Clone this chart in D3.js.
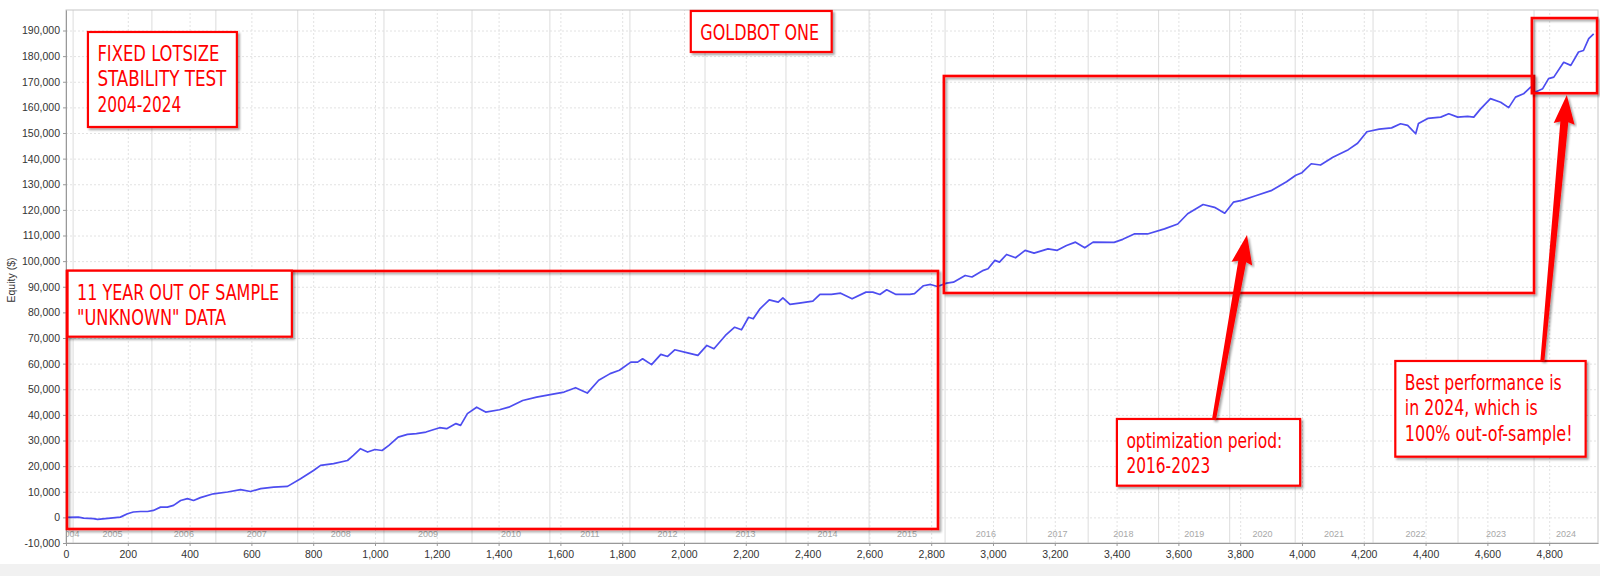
<html><head>
<meta charset="utf-8">
<title>GOLDBOT ONE - fixed lotsize stability test</title>
<script src="https://d3js.org/d3.v7.min.js"></script>
<style>
  body { margin: 0; background: #fff; }

  .gridlines line { stroke: #e2e2e2; stroke-dasharray: 2,2; }
  .gridlines .domain { stroke: none; }

  .axis text { font-family: "Liberation Sans", Arial, sans-serif; font-size: 10.5px; fill: #333; }
  .axis line, .axis path { stroke: #999; }

  .note text { font-family: "DejaVu Sans Condensed", "DejaVu Sans", sans-serif; font-size: 21px; fill: #ff0000; }
</style>
</head>
<body>
<svg id="equity" width="1600" height="576"></svg>

<script>
  // --- data
  // trade number and account equity ($) along the curve
  const trades = [0, 40, 57, 89, 102, 144, 176, 199, 218, 241, 264, 283, 306, 328, 348, 371, 393, 413, 435, 477,
    523, 565, 597, 630, 672, 717, 759, 801, 824, 866, 911, 930, 953, 976, 1000, 1023, 1045, 1075, 1105, 1134,
    1165, 1209, 1232, 1262, 1277, 1299, 1329, 1358, 1403, 1433, 1478, 1523, 1567, 1612, 1649, 1687, 1724, 1761, 1791, 1828,
    1850, 1866, 1895, 1925, 1947, 1970, 2015, 2045, 2074, 2097, 2134, 2164, 2186, 2209, 2224, 2246, 2276, 2305, 2320, 2343,
    2373, 2417, 2440, 2477, 2507, 2544, 2589, 2611, 2634, 2656, 2686, 2731, 2746, 2775, 2798, 2820, 2850, 2872, 2910, 2932,
    2969, 2984, 3006, 3021, 3044, 3073, 3104, 3133, 3178, 3208, 3238, 3267, 3297, 3324, 3392, 3420, 3457, 3500, 3555, 3598,
    3630, 3680, 3717, 3750, 3778, 3805, 3850, 3900, 3950, 3980, 4000, 4030, 4060, 4100, 4150, 4180, 4210, 4250, 4290, 4319,
    4342, 4368, 4377, 4407, 4449, 4475, 4504, 4536, 4556, 4578, 4610, 4643, 4669, 4691, 4717, 4740, 4756, 4779, 4798, 4815,
    4847, 4870, 4895, 4911, 4928, 4944];
  const equity = [0, 100, -300, -500, -800, -300, 100, 1400, 2100, 2300, 2300, 2700, 4000, 4000, 4700, 6600, 7300, 6600, 7700, 9200,
    9900, 10800, 10100, 11200, 11800, 12100, 15100, 18300, 20300, 21000, 22200, 24200, 26800, 25500, 26500, 26100, 28100, 31300, 32400, 32700,
    33300, 35000, 34600, 36600, 35900, 40500, 43000, 41100, 42000, 43000, 45600, 46900, 47900, 48900, 50600, 48500, 53500, 56100, 57400, 60600,
    60600, 61900, 59600, 63600, 62800, 65400, 64100, 63200, 67100, 65800, 71000, 74200, 73200, 78100, 77500, 81400, 84900, 84000, 85700, 83100,
    83600, 84400, 87000, 87000, 87500, 85300, 87900, 87900, 87000, 88800, 87000, 87000, 87300, 90400, 90900, 90100, 91400, 91800, 94400, 93800,
    96400, 97000, 100300, 99600, 102600, 101300, 104200, 103100, 104800, 104200, 106100, 107400, 105200, 107400, 107300, 108500, 110600, 110600, 112600, 114500,
    118500, 122100, 121000, 118700, 123000, 123700, 125500, 127500, 131000, 133500, 134500, 138000, 137500, 140500, 143500, 146000, 150500, 151500, 152000, 153600,
    153000, 149700, 153700, 155700, 156200, 157500, 156200, 156500, 156200, 159400, 163400, 162000, 159900, 164000, 165300, 167900, 166000, 167300, 171200, 171800,
    177600, 176400, 181600, 182200, 186800, 188700];

  // calendar years and the trade number where each one starts
  const years = [2004, 2005, 2006, 2007, 2008, 2009, 2010, 2011, 2012, 2013, 2014, 2015, 2016, 2017, 2018, 2019, 2020, 2021, 2022, 2023, 2024];
  const yearStart = [0, 23, 278, 485, 750, 1029, 1314, 1566, 1825, 2068, 2330, 2599, 2845, 3109, 3308, 3536, 3766, 3978, 4230, 4505, 4751];
  const lastTrade = 4958;

  // tick values
  const xTicks = d3.range(0, 4801, 200);
  const yTicks = d3.range(-10000, 190001, 10000);

  // --- 0. svg and chart area
  const svg = d3.select('svg#equity');
  const width = svg.attr('width');
  const height = svg.attr('height');

  const margins = {top: 10, right: 2, bottom: 33, left: 66};
  const chartWidth = width - margins.left - margins.right;
  const chartHeight = height - margins.top - margins.bottom;

  // light band below the axis labels
  svg.append('rect')
     .attr('x', 0).attr('y', height - 12)
     .attr('width', width).attr('height', 12)
     .attr('fill', '#f1f1f1');

  const defs = svg.append('defs');
  defs.append('clipPath').attr('id', 'plotclip')
      .append('rect').attr('width', chartWidth).attr('height', chartHeight);
  defs.append('filter').attr('id', 'shadow')
      .attr('x', '-5%').attr('y', '-5%').attr('width', '110%').attr('height', '120%')
      .append('feDropShadow')
      .attr('dx', 2).attr('dy', 2).attr('stdDeviation', 1.2)
      .attr('flood-color', '#000').attr('flood-opacity', 0.35);

  let chartArea = svg.append('g')
                     .attr('transform', `translate(${margins.left}, ${margins.top})`);

  // --- 1. scales
  const xScale = d3.scaleLinear().domain([0, lastTrade]).range([0, chartWidth]);
  const yScale = d3.scaleLinear().domain([-10000, 198000]).range([chartHeight, 0]);

  // --- 2. gridlines (dashed) using axes
  let leftGridlines = d3.axisLeft(yScale).tickValues(yTicks).tickSize(-chartWidth).tickFormat('');
  chartArea.append('g')
           .attr('class', 'gridlines')
           .call(leftGridlines);

  let bottomGridlines = d3.axisBottom(xScale).tickValues(xTicks).tickSize(-chartHeight).tickFormat('');
  chartArea.append('g')
           .attr('class', 'gridlines')
           .attr('transform', `translate(0, ${chartHeight})`)
           .call(bottomGridlines);

  // solid separators between years
  chartArea.append('g')
           .selectAll('line')
           .data(yearStart.slice(1))
           .join('line')
           .attr('x1', d => xScale(d)).attr('x2', d => xScale(d))
           .attr('y1', 0).attr('y2', chartHeight)
           .attr('stroke', '#dcdcdc');

  // plot frame
  chartArea.append('rect')
           .attr('width', chartWidth).attr('height', chartHeight)
           .attr('fill', 'none').attr('stroke', '#c6c6c6');

  // year labels along the bottom of the plot
  chartArea.append('g')
           .attr('clip-path', 'url(#plotclip)')
           .selectAll('text')
           .data(years)
           .join('text')
           .attr('x', (d, i) => xScale((yearStart[i] + (i + 1 < yearStart.length ? yearStart[i + 1] : lastTrade)) / 2))
           .attr('y', chartHeight - 6)
           .attr('text-anchor', 'middle')
           .style('font-family', '"Liberation Sans", Arial, sans-serif')
           .style('font-size', '9px')
           .style('fill', '#a8a8a8')
           .text(d => d);

  // --- 3. equity curve
  let line = d3.line()
               .x((d, i) => xScale(trades[i]))
               .y(d => yScale(d));

  chartArea.append('path')
           .datum(equity)
           .attr('d', line)
           .attr('fill', 'none')
           .attr('stroke', '#4d4df0')
           .attr('stroke-width', 1.7)
           .attr('stroke-linejoin', 'round');

  // --- 4. axes
  // plain hyphen for negative numbers
  const fmt = d => (d < 0 ? '-' : '') + d3.format(',')(Math.abs(d));

  let leftAxis = d3.axisLeft(yScale).tickValues(yTicks).tickSize(3).tickSizeOuter(0).tickPadding(3).tickFormat(fmt);
  chartArea.append('g')
           .attr('class', 'axis')
           .call(leftAxis);

  let bottomAxis = d3.axisBottom(xScale).tickValues(xTicks).tickSize(3).tickSizeOuter(0).tickPadding(5).tickFormat(fmt);
  chartArea.append('g')
           .attr('class', 'axis')
           .attr('transform', `translate(0, ${chartHeight})`)
           .call(bottomAxis);

  svg.append('text')
     .attr('transform', 'translate(15, 280) rotate(-90)')
     .attr('text-anchor', 'middle')
     .style('font-family', '"Liberation Sans", Arial, sans-serif')
     .style('font-size', '10.5px')
     .style('fill', '#333')
     .text('Equity ($)');

  // --- 5. red annotations (placed in trade / equity units)
  const periodRects = [
    {x0: 3, x1: 2822, y0: 96155, y1: -4527},       // out of sample 2004-2015
    {x0: 2841, x1: 4751, y0: 172250, y1: 87570},   // optimization 2016-2023
    {x0: 4744, x1: 4955, y0: 194850, y1: 165530}   // 2024
  ];

  const noteBoxes = [
    {x0: 2022, x1: 2478, y0: 197620, y1: 181620, lines: ['GOLDBOT ONE'], widths: [119]},
    {x0: 71, x1: 553, y0: 189420, y1: 152350, lines: ['FIXED LOTSIZE', 'STABILITY TEST', '2004-2024'], widths: [122, 129, 84]},
    {x0: 5, x1: 731, y0: 96270, y1: 70520, lines: ['11 YEAR OUT OF SAMPLE', '"UNKNOWN" DATA'], widths: [202, 149]},
    {x0: 3401, x1: 3994, y0: 38400, y1: 12370, lines: ['optimization period:', '2016-2023'], widths: [156, 84]},
    {x0: 4302, x1: 4918, y0: 61030, y1: 23690, lines: ['Best performance is', 'in 2024, which is', '100% out-of-sample!'], widths: [157, 133, 168]}
  ];

  const arrows = [
    {from: [3715, 38010], to: [3822, 110200]},
    {from: [4778, 61030], to: [4857, 164830]}
  ];

  let notes = chartArea.append('g').attr('class', 'note');

  notes.selectAll('rect.period')
       .data(periodRects)
       .join('rect')
       .attr('class', 'period')
       .attr('x', d => xScale(d.x0))
       .attr('y', d => yScale(d.y0))
       .attr('width', d => xScale(d.x1) - xScale(d.x0))
       .attr('height', d => yScale(d.y1) - yScale(d.y0))
       .attr('fill', 'none')
       .attr('stroke', '#ff0000')
       .attr('stroke-width', 2.6)
       .attr('filter', 'url(#shadow)');

  noteBoxes.forEach(b => {
    const bx = xScale(b.x0), by = yScale(b.y0);
    notes.append('rect')
         .attr('x', bx).attr('y', by)
         .attr('width', xScale(b.x1) - bx)
         .attr('height', yScale(b.y1) - by)
         .attr('fill', '#fff')
         .attr('stroke', '#ff0000')
         .attr('stroke-width', 2.2)
         .attr('filter', 'url(#shadow)');

    // squeeze each line horizontally to the narrow lettering of the picture
    b.lines.forEach((t, i) => {
      const txt = notes.append('text').text(t);
      const natural = txt.node().getComputedTextLength();
      txt.attr('transform', `translate(${bx + 9.5}, ${by + 29 + i * 25.3}) scale(${b.widths[i] / natural}, 1)`);
    });
  });

  // tapered arrow as a filled polygon
  function arrowPoints(x1, y1, x2, y2) {
    const len = Math.hypot(x2 - x1, y2 - y1);
    const ux = (x2 - x1) / len, uy = (y2 - y1) / len;
    const nx = -uy, ny = ux;
    const headLen = 27, headHalf = 10.5, neckHalf = 4, tailHalf = 2;
    const bx = x2 - ux * headLen, by = y2 - uy * headLen;
    return [
      [x1 + nx * tailHalf, y1 + ny * tailHalf],
      [bx + nx * neckHalf, by + ny * neckHalf],
      [bx + nx * headHalf - ux * 2, by + ny * headHalf - uy * 2],
      [x2, y2],
      [bx - nx * headHalf - ux * 2, by - ny * headHalf - uy * 2],
      [bx - nx * neckHalf, by - ny * neckHalf],
      [x1 - nx * tailHalf, y1 - ny * tailHalf]
    ].map(p => p.join(',')).join(' ');
  }

  notes.selectAll('polygon')
       .data(arrows)
       .join('polygon')
       .attr('points', d => arrowPoints(xScale(d.from[0]), yScale(d.from[1]), xScale(d.to[0]), yScale(d.to[1])))
       .attr('fill', '#ff0000')
       .attr('filter', 'url(#shadow)');
</script>
</body>
</html>
